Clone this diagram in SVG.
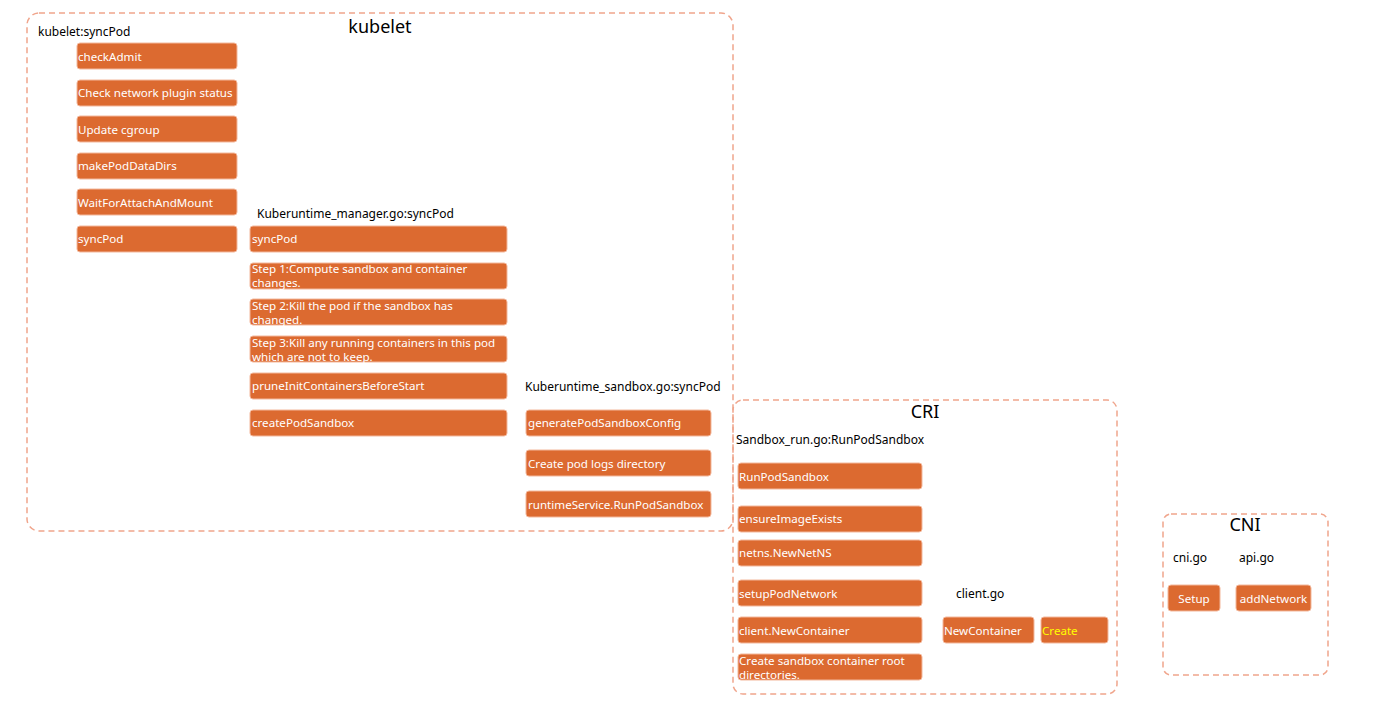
<svg xmlns="http://www.w3.org/2000/svg" width="1383" height="725" viewBox="0 0 1383 725">
<style>
.grp{fill:none;stroke:#f0a58c;stroke-width:1.5;stroke-dasharray:6,4}
.box{fill:#dc6a30;stroke:#f3b89c;stroke-width:1}
.t{font-family:"Noto Sans","Open Sans",sans-serif;font-size:11.6px;fill:#ffffff}
.y{fill:#ffff00}
.lbl{font-family:"Noto Sans","Open Sans",sans-serif;font-size:12px;fill:#000000}
.ttl{font-family:"Noto Sans","Open Sans",sans-serif;font-size:18px;fill:#000000;text-anchor:middle}
</style>
<rect width="1383" height="725" fill="#ffffff"/>
<g id="kubelet">
<rect class="grp" x="27" y="13" width="706" height="518" rx="12"/>
<text class="ttl" x="380" y="33">kubelet</text>
<text class="lbl" x="38" y="36">kubelet:syncPod</text>
</g>
<g id="checkAdmit"><rect class="box" x="77" y="43" width="160" height="26" rx="3"/><text class="t" x="78" y="61">checkAdmit</text></g>
<g id="checkNetwork"><rect class="box" x="77" y="80" width="160" height="26" rx="3"/><text class="t" x="78" y="97">Check network plugin status</text></g>
<g id="updateCgroup"><rect class="box" x="77" y="116" width="160" height="26" rx="3"/><text class="t" x="78" y="134">Update cgroup</text></g>
<g id="makePodDataDirs"><rect class="box" x="77" y="153" width="160" height="26" rx="3"/><text class="t" x="78" y="170">makePodDataDirs</text></g>
<g id="waitForAttach"><rect class="box" x="77" y="189" width="160" height="26" rx="3"/><text class="t" x="78" y="207">WaitForAttachAndMount</text></g>
<g id="syncPod1"><rect class="box" x="77" y="226" width="160" height="26" rx="3"/><text class="t" x="78" y="243">syncPod</text></g>

<g id="kuberuntimeManager"><text class="lbl" x="257" y="218">Kuberuntime_manager.go:syncPod</text></g>
<g id="syncPod2"><rect class="box" x="250" y="226" width="257" height="26" rx="3"/><text class="t" x="252" y="243">syncPod</text></g>
<g id="step1"><rect class="box" x="250" y="263" width="257" height="26" rx="3"/><text class="t" x="252" y="273">Step 1:Compute sandbox and container</text><text class="t" x="252" y="287">changes.</text></g>
<g id="step2"><rect class="box" x="250" y="299" width="257" height="26" rx="3"/><text class="t" x="252" y="310">Step 2:Kill the pod if the sandbox has</text><text class="t" x="252" y="324">changed.</text></g>
<g id="step3"><rect class="box" x="250" y="336" width="257" height="26" rx="3"/><text class="t" x="252" y="347">Step 3:Kill any running containers in this pod</text><text class="t" x="252" y="361">which are not to keep.</text></g>
<g id="pruneInit"><rect class="box" x="250" y="373" width="257" height="26" rx="3"/><text class="t" x="252" y="390">pruneInitContainersBeforeStart</text></g>
<g id="createPodSandbox"><rect class="box" x="250" y="410" width="257" height="26" rx="3"/><text class="t" x="252" y="427">createPodSandbox</text></g>

<g id="kuberuntimeSandbox"><text class="lbl" x="525" y="391">Kuberuntime_sandbox.go:syncPod</text></g>
<g id="generateConfig"><rect class="box" x="526" y="410" width="185" height="26" rx="3"/><text class="t" x="528" y="427">generatePodSandboxConfig</text></g>
<g id="createLogs"><rect class="box" x="526" y="450" width="185" height="26" rx="3"/><text class="t" x="528" y="468">Create pod logs directory</text></g>
<g id="runtimeService"><rect class="box" x="526" y="491" width="185" height="26" rx="3"/><text class="t" x="528" y="509">runtimeService.RunPodSandbox</text></g>

<g id="cri">
<rect class="grp" x="733" y="400" width="384" height="294" rx="10"/>
<text class="ttl" x="925" y="418">CRI</text>
<text class="lbl" x="736" y="444">Sandbox_run.go:RunPodSandbox</text>
<text class="lbl" x="956" y="598">client.go</text>
</g>
<g id="runPodSandbox"><rect class="box" x="738" y="463" width="184" height="26" rx="3"/><text class="t" x="739" y="481">RunPodSandbox</text></g>
<g id="ensureImage"><rect class="box" x="738" y="506" width="184" height="26" rx="3"/><text class="t" x="739" y="523">ensureImageExists</text></g>
<g id="netns"><rect class="box" x="738" y="540" width="184" height="26" rx="3"/><text class="t" x="739" y="557">netns.NewNetNS</text></g>
<g id="setupPodNetwork"><rect class="box" x="738" y="580" width="184" height="26" rx="3"/><text class="t" x="739" y="598">setupPodNetwork</text></g>
<g id="clientNewContainer"><rect class="box" x="738" y="617" width="184" height="26" rx="3"/><text class="t" x="739" y="635">client.NewContainer</text></g>
<g id="createRootDirs"><rect class="box" x="738" y="654" width="184" height="26" rx="3"/><text class="t" x="739" y="665">Create sandbox container root</text><text class="t" x="739" y="679">directories.</text></g>
<g id="newContainer"><rect class="box" x="943" y="617" width="91" height="26" rx="3"/><text class="t" x="944" y="635">NewContainer</text></g>
<g id="create"><rect class="box" x="1041" y="617" width="67" height="26" rx="3"/><text class="t y" x="1042" y="635">Create</text></g>

<g id="cni">
<rect class="grp" x="1163" y="514" width="165" height="161" rx="8"/>
<text class="ttl" x="1245" y="531">CNI</text>
<text class="lbl" x="1173" y="562">cni.go</text>
<text class="lbl" x="1239" y="562">api.go</text>
</g>
<g id="setup"><rect class="box" x="1168" y="585" width="52" height="26" rx="3"/><text class="t" x="1194" y="603" text-anchor="middle">Setup</text></g>
<g id="addNetwork"><rect class="box" x="1236" y="585" width="75" height="26" rx="3"/><text class="t" x="1273.5" y="603" text-anchor="middle">addNetwork</text></g>
<g id="connectors"></g>
</svg>
